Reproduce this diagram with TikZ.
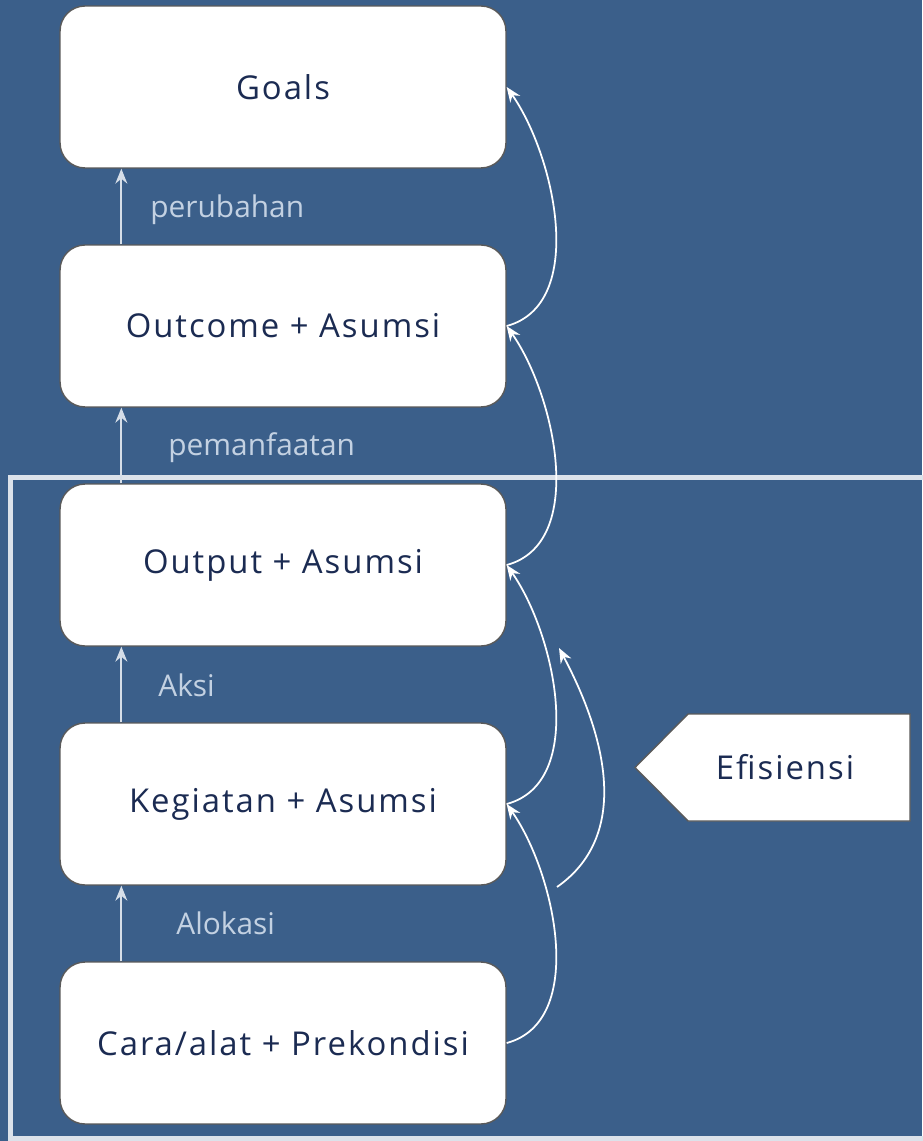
\documentclass[tikz,border=0pt]{standalone}
\usepackage{fontspec}
\setmainfont{Open Sans}
\newfontfamily\stagefont[LetterSpace=6]{Open Sans}
\usepackage{tikz}
\usetikzlibrary{calc, positioning}
\usetikzlibrary{arrows.meta}
\tikzset{>={Stealth[length=8.5pt,width=6.8pt]}}
\usepackage{xcolor}
\definecolor{mybg}{HTML}{3B5F8A}
\definecolor{mynavy}{HTML}{1B2B52}
\definecolor{mylabel}{HTML}{C3D1E2}
\definecolor{mylight}{HTML}{D6DEE8}
\definecolor{myframe}{HTML}{DCE2EA}
\definecolor{myborder}{HTML}{5A5A5A}
\tikzset{
  stage/.style={draw=myborder, fill=white, rounded corners=0.5cm, line width=0.8pt,
    minimum width=8.92cm, minimum height=3.24cm, text=mynavy, font=\stagefont\fontsize{18.7}{22}\selectfont},
  flow/.style={->, draw=mylight, line width=1pt},
  flowlabel/.style={anchor=base west, inner sep=0pt, text=mylabel, font=\fontsize{17}{20}\selectfont},
  backloop/.style={->, draw=white, line width=1pt},
}

\begin{document}
\begin{tikzpicture}[x=0.02cm, y=0.02cm]
				\fill[mybg] (0,0) rectangle (922,-1141);
				\useasboundingbox (0,0) rectangle (922,-1141);
				\draw[myframe, line width=2.8pt] (10.5,-477.5) rectangle (960,-1138.5);
				% the five stages
				\node[stage] (goals) at (283,-87) {Goals};
				\node[stage] (outcome) at (283,-326) {Outcome + Asumsi};
				\node[stage] (output) at (283,-565) {Output + Asumsi};
				\node[stage] (kegiatan) at (283,-804) {Kegiatan + Asumsi};
				\node[stage] (cara) at (283,-1043) {Cara/alat + Prekondisi};
				% upward flow
				\draw[flow] ($(cara.north west)+(62,0)$) -- ($(kegiatan.south west)+(62,0)$);
				\draw[flow] ($(kegiatan.north west)+(62,0)$) -- ($(output.south west)+(62,0)$);
				\draw[flow] ($(output.north west)+(62,0)$) -- ($(outcome.south west)+(62,0)$);
				\draw[flow] ($(outcome.north west)+(62,0)$) -- ($(goals.south west)+(62,0)$);
				\node[flowlabel] (alokasi) at (176,-934) {Alokasi};
				\node[flowlabel] (aksi) at (158,-696) {Aksi};
				\node[flowlabel] (pemanfaatan) at (168,-456) {pemanfaatan};
				\node[flowlabel] (perubahan) at (150,-218) {perubahan};
				% curved links on the right
				\draw[backloop] (cara.east) to[out=15, in=-55, looseness=0.9] (kegiatan.east);
				\draw[backloop] (kegiatan.east) to[out=15, in=-55, looseness=0.9] (output.east);
				\draw[backloop] (output.east) to[out=15, in=-55, looseness=0.9] (outcome.east);
				\draw[backloop] (outcome.east) to[out=15, in=-55, looseness=0.9] (goals.east);
				\coordinate (effstart) at (557,-887);
				\coordinate (effend) at (559,-648);
				\draw[backloop] (effstart) to[out=35, in=-62] (effend);
				% efisiensi tag
				\draw[myborder, fill=white, line width=0.8pt] (635,-767.5) -- (688,-714) -- (910,-714) -- (910,-821) -- (688,-821) -- cycle;
				\node[text=mynavy, font=\stagefont\fontsize{18.7}{22}\selectfont] (eff) at (785,-767.5) {Efisiensi};
			\end{tikzpicture}
\end{document}
